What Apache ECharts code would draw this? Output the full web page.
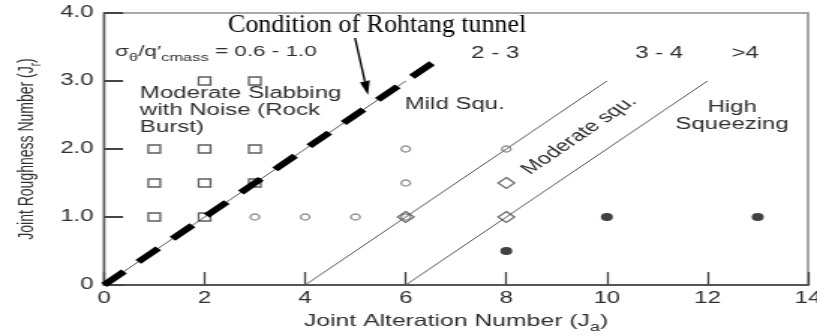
<!DOCTYPE html>
<html>
<head>
<meta charset="utf-8">
<script src="https://cdn.jsdelivr.net/npm/echarts@6/dist/echarts.min.js"></script>
<style>
  html, body { margin: 0; padding: 0; background: #fff; overflow: hidden; }
  /* the figure is drawn in a narrower box and widened horizontally */
  #chart { width: 545px; height: 336px; transform: scaleX(1.499083); transform-origin: 0 0; }
</style>
</head>
<body>
<div id="chart"></div>
<script>
// Horizontal widening of the drawing box
const S = 817 / 545;

// Axis ranges
const xMin = 0, xMax = 14, xStep = 2;
const yMin = 0, yMax = 4, yStep = 1;

// Observed cases, grouped by behaviour (Ja, Jr)
const slabbingSquares = [[2, 3], [3, 3], [1, 2], [2, 2], [3, 2], [1, 1.5], [2, 1.5], [3, 1.5], [1, 1], [2, 1]];
const mildCircles = [[6, 2], [8, 2], [6, 1.5], [3, 1], [4, 1], [5, 1], [6, 1]];
const moderateDiamonds = [[6, 1], [8, 1.5], [8, 1]];
const highDots = [[8, 0.5], [10, 1], [13, 1]];

// Zone boundaries (Ja, Jr end points)
const boundaryA = [[0, 0], [6, 3]];
const boundaryB = [[4, 0], [10, 3]];
const boundaryC = [[6, 0], [12, 3]];

// Rohtang tunnel condition line
const rohtangLine = [[0, 0], [6.57, 3.285]];

const FONT = 'Liberation Sans';
const TEXT = '#2e2e2e';

const chart = echarts.init(document.getElementById('chart'));

const hollow = (border, width) => ({ color: 'transparent', borderColor: border, borderWidth: width });
const boundary = (data) => ({
  type: 'line', data, symbol: 'none', silent: true, z: 2,
  lineStyle: { color: '#555', width: 1 }
});

chart.setOption({
  animation: false,
  backgroundColor: '#fff',
  grid: {
    left: 104 / S, right: 9 / S, top: 13, bottom: 51,
    outerBoundsMode: 'none', containLabel: false,
    show: true, borderColor: '#8c8c8c', borderWidth: 1.5, backgroundColor: 'transparent'
  },
  xAxis: {
    type: 'value', min: xMin, max: xMax, interval: xStep,
    splitLine: { show: false },
    axisLine: { lineStyle: { color: '#555', width: 1.8 } },
    axisTick: { inside: true, length: 13, lineStyle: { color: '#444', width: 1.3 } },
    axisLabel: { color: TEXT, fontFamily: FONT, fontSize: 16, margin: 6 },
    name: '{m|Joint Alteration Number (J}{s|a}{m|)}',
    nameLocation: 'middle', nameGap: 28,
    nameTextStyle: {
      rich: {
        m: { fontFamily: FONT, fontSize: 16.5, color: TEXT, verticalAlign: 'bottom', padding: [0, 0, 4, 0] },
        s: { fontFamily: FONT, fontSize: 12, color: TEXT, verticalAlign: 'bottom' }
      }
    }
  },
  yAxis: {
    type: 'value', min: yMin, max: yMax, interval: yStep,
    splitLine: { show: false },
    axisLine: { lineStyle: { color: '#555', width: 1.4 } },
    axisTick: { inside: true, length: 12.7, lineStyle: { color: '#444', width: 2 } },
    axisLabel: {
      color: TEXT, fontFamily: FONT, fontSize: 16, margin: 7,
      formatter: (v) => (v === 0 ? '0' : v.toFixed(1))
    },
    name: '{m|Joint Roughness Number (J}{s|r}{m|)}',
    nameLocation: 'middle', nameGap: 39, nameRotate: 90,
    nameTextStyle: {
      rich: {
        m: { fontFamily: FONT, fontSize: 14, color: TEXT, verticalAlign: 'bottom', padding: [0, 0, 4, 0] },
        s: { fontFamily: FONT, fontSize: 10, color: TEXT, verticalAlign: 'bottom' }
      }
    }
  },
  series: [
    boundary(boundaryA),
    boundary(boundaryB),
    boundary(boundaryC),
    {
      type: 'scatter', data: slabbingSquares, symbol: 'rect', symbolSize: 8, z: 3,
      itemStyle: hollow('#333', 1.3)
    },
    {
      type: 'scatter', data: mildCircles, symbol: 'circle', symbolSize: 6, z: 3,
      itemStyle: hollow('#7a7a7a', 1.4)
    },
    {
      type: 'scatter', data: moderateDiamonds, symbol: 'diamond', symbolSize: 11, z: 3,
      itemStyle: hollow('#444', 1.2)
    },
    {
      type: 'scatter', data: highDots, symbol: 'circle', symbolSize: 8, z: 3,
      itemStyle: { color: '#111' }
    },
    {
      type: 'line', data: rohtangLine, symbol: 'none', silent: true, z: 4,
      lineStyle: { color: '#000', width: 5.5, type: [19, 13.5], cap: 'butt' }
    }
  ]
});

// Text annotations anchored to the data space
const px = (p) => chart.convertToPixel({ gridIndex: 0 }, p);
const label = (pos, text, align, extra) => {
  const [x, y] = px(pos);
  return Object.assign({
    type: 'text', x, y, z: 10, silent: true,
    style: {
      text, fill: TEXT, font: '16px "' + FONT + '"',
      align, verticalAlign: 'middle', lineHeight: 17
    }
  }, extra || {});
};

const b0 = px(boundaryB[0]), b1 = px(boundaryB[1]);
const slope = Math.atan2(b0[1] - b1[1], b1[0] - b0[0]);

const sigmaAnchor = px([0.22, 3.4]);
const graphics = [
  {
    type: 'text', x: sigmaAnchor[0], y: sigmaAnchor[1], z: 10, silent: true,
    style: {
      text: '{m|σ}{s|θ}{m|/q′}{s|cmass}{m| = 0.6 - 1.0}',
      align: 'left', verticalAlign: 'middle',
      rich: {
        m: { fill: TEXT, fontFamily: FONT, fontSize: 15, verticalAlign: 'bottom', padding: [0, 0, 4, 0] },
        s: { fill: TEXT, fontFamily: FONT, fontSize: 11, verticalAlign: 'bottom' }
      }
    }
  },
  label([7.78, 3.4], '2 - 3', 'center'),
  label([11.04, 3.4], '3 - 4', 'center'),
  label([12.75, 3.4], '>4', 'center'),
  label([0.715, 2.56], 'Moderate Slabbing\nwith Noise (Rock\nBurst)', 'left'),
  label([5.98, 2.65], 'Mild Squ.', 'left'),
  label([12.49, 2.49], 'High\nSqueezing', 'center'),
  label([9.45, 2.2], 'Moderate squ.', 'center', { rotation: slope })
];

// Callout naming the Rohtang tunnel line (kept at natural proportions)
const tip = [368, 95], tail = [355, 38];
const dx = tip[0] - tail[0], dy = tip[1] - tail[1];
const len = Math.hypot(dx, dy);
const ux = dx / len, uy = dy / len;
const headLen = 14, headHalf = 5;
const bx = tip[0] - ux * headLen, by = tip[1] - uy * headLen;
graphics.push(
  {
    type: 'text', x: 228 / S, y: 25, scaleX: 1 / S, z: 10, silent: true,
    style: {
      text: 'Condition of Rohtang tunnel', fill: '#000',
      font: '26px "Liberation Serif"', align: 'left', verticalAlign: 'middle'
    }
  },
  {
    type: 'line', z: 10, silent: true,
    shape: { x1: tail[0] / S, y1: tail[1], x2: bx / S, y2: by },
    style: { stroke: '#000', lineWidth: 2 / S }
  },
  {
    type: 'polygon', z: 10, silent: true,
    shape: {
      points: [
        [tip[0] / S, tip[1]],
        [(bx - uy * headHalf) / S, by + ux * headHalf],
        [(bx + uy * headHalf) / S, by - ux * headHalf]
      ]
    },
    style: { fill: '#000' }
  }
);

chart.setOption({ graphic: graphics });
</script>
</body>
</html>
